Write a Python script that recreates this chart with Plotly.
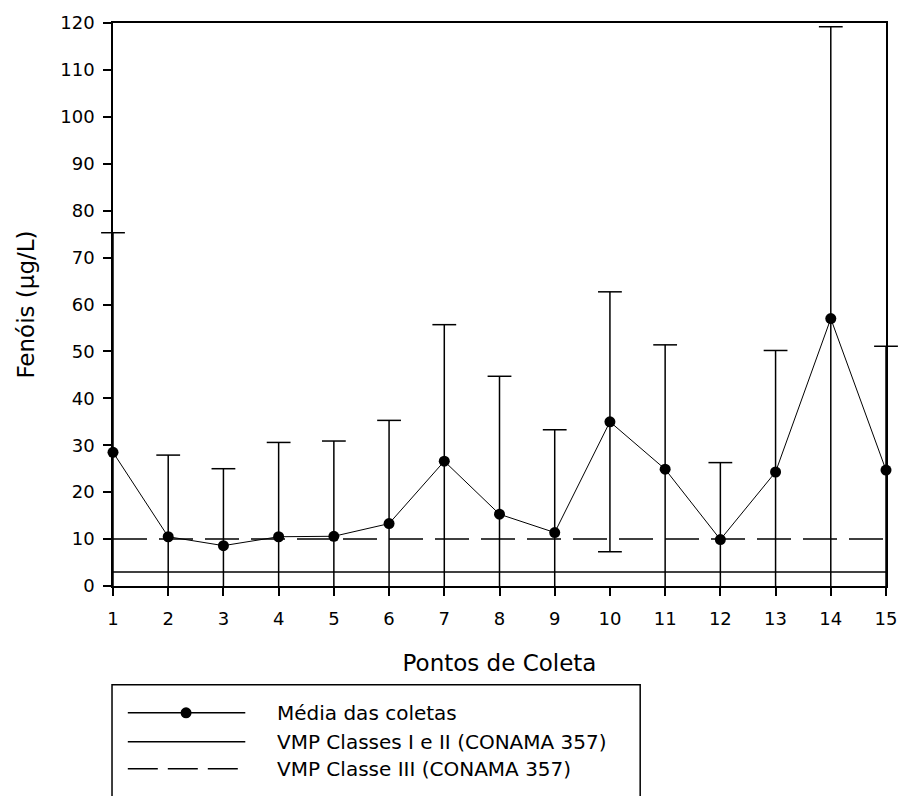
import plotly.graph_objects as go

# Pontos de coleta e resultados de fenóis (µg/L)
pontos = list(range(1, 16))
media = [28.5, 10.5, 8.6, 10.5, 10.6, 13.3, 26.6, 15.3, 11.4, 35.0, 24.9, 9.9, 24.3, 57.0, 24.7]
desvio = [46.8, 17.4, 16.4, 20.1, 20.3, 22.0, 29.1, 29.4, 21.9, 27.7, 26.5, 16.4, 25.9, 62.2, 26.4]

vmp_classes_1_2 = 3.0   # VMP Classes I e II (CONAMA 357)
vmp_classe_3 = 10.0     # VMP Classe III (CONAMA 357)

y_ticks = list(range(0, 121, 10))

legend_labels = [
    "Média das coletas",
    "VMP Classes I e II (CONAMA 357)",
    "VMP Classe III (CONAMA 357)",
]

FONT = "DejaVu Sans, Verdana, sans-serif"
W, H = 909, 796
ML, MR, MT, MB = 113, 13, 22, 210
PW, PH = W - ML - MR, H - MT - MB


def px_x(px):
    return (px - ML) / PW


def px_y(py):
    return (H - MB - py) / PH


upper = [m + s for m, s in zip(media, desvio)]
lower = [m - s for m, s in zip(media, desvio)]

# vertical error-bar segments
ex, ey = [], []
for x, lo, hi in zip(pontos, lower, upper):
    ex += [x, x, None]
    ey += [lo, hi, None]

# caps: every upper end, and lower ends that fall inside the axis range
cap_x = list(pontos)
cap_y = list(upper)
for x, lo in zip(pontos, lower):
    if lo >= 0:
        cap_x.append(x)
        cap_y.append(lo)

fig = go.Figure()

fig.add_trace(go.Scatter(
    x=[pontos[0], pontos[-1]], y=[vmp_classes_1_2] * 2, mode="lines",
    line=dict(color="black", width=1.5), showlegend=False, hoverinfo="skip"))
fig.add_trace(go.Scatter(
    x=[pontos[0], pontos[-1]], y=[vmp_classe_3] * 2, mode="lines",
    line=dict(color="black", width=1.5, dash="34px,12px"), showlegend=False, hoverinfo="skip"))

fig.add_trace(go.Scatter(
    x=ex, y=ey, mode="lines", line=dict(color="black", width=1.5),
    showlegend=False, hoverinfo="skip"))
fig.add_trace(go.Scatter(
    x=cap_x, y=cap_y, mode="markers", cliponaxis=False,
    marker=dict(symbol="line-ew", size=17, color="black",
                line=dict(color="black", width=1.5)),
    showlegend=False, hoverinfo="skip"))

fig.add_trace(go.Scatter(
    x=pontos, y=media, mode="lines+markers", cliponaxis=False,
    line=dict(color="black", width=1),
    marker=dict(symbol="circle", size=11, color="black"),
    showlegend=False))

# legend box drawn in pixel-derived paper coordinates
shapes = [dict(type="rect", xref="paper", yref="paper",
               x0=px_x(112), x1=px_x(647), y0=px_y(685), y1=px_y(820),
               line=dict(color="black", width=1.5), fillcolor="rgba(0,0,0,0)")]
rows = [713, 742, 769]
dashes = ["solid", "solid", "30px,10px"]
for ry, d in zip(rows, dashes):
    shapes.append(dict(type="line", xref="paper", yref="paper",
                       x0=px_x(128), x1=px_x(247), y0=px_y(ry), y1=px_y(ry),
                       line=dict(color="black", width=1.5, dash=d)))
shapes.append(dict(type="circle", xref="paper", yref="paper",
                   xsizemode="pixel", ysizemode="pixel",
                   xanchor=px_x(187), yanchor=px_y(rows[0]),
                   x0=-5.5, x1=5.5, y0=-5.5, y1=5.5,
                   fillcolor="black", line=dict(color="black", width=0)))

annotations = []
for ry, label in zip(rows, legend_labels):
    annotations.append(dict(xref="paper", yref="paper", x=px_x(277), y=px_y(ry),
                            xanchor="left", yanchor="middle", showarrow=False,
                            text=label, font=dict(family=FONT, size=20, color="black")))

fig.update_layout(
    width=W, height=H,
    margin=dict(l=ML, r=MR, t=MT, b=MB),
    paper_bgcolor="white", plot_bgcolor="white",
    font=dict(family=FONT, color="black"),
    shapes=shapes, annotations=annotations,
    xaxis=dict(
        range=[1, 15], tickmode="array", tickvals=pontos,
        ticks="outside", ticklen=8, tickwidth=1.5, tickcolor="black",
        showline=True, linecolor="black", linewidth=1.5, mirror=True,
        showgrid=False, zeroline=False, ticklabelstandoff=8,
        tickfont=dict(family=FONT, size=18, color="black"),
        title=dict(text="Pontos de Coleta", standoff=27,
                   font=dict(family=FONT, size=23, color="black")),
    ),
    yaxis=dict(
        range=[0, 120], tickmode="array", tickvals=y_ticks,
        ticks="outside", ticklen=8, tickwidth=1.5, tickcolor="black",
        showline=True, linecolor="black", linewidth=1.5, mirror=True,
        showgrid=False, zeroline=False, ticklabelstandoff=5,
        tickfont=dict(family=FONT, size=18, color="black"),
        title=dict(text="Fenóis (µg/L)", standoff=19,
                   font=dict(family=FONT, size=23, color="black")),
    ),
)

fig.write_html("out.html")
